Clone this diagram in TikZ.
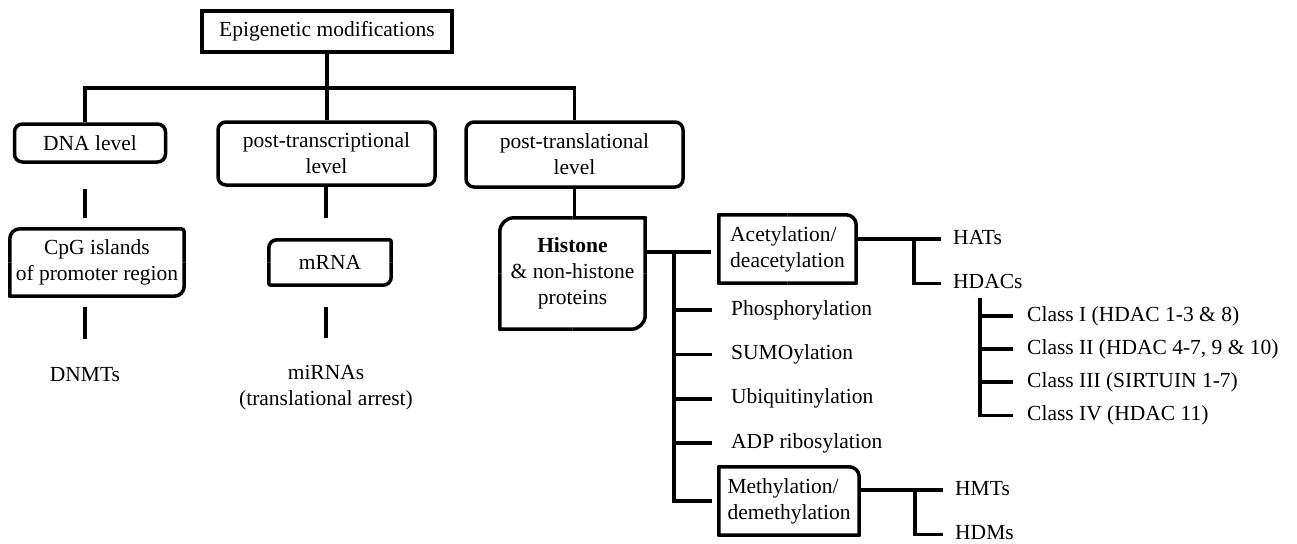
\documentclass[tikz,border=0pt]{standalone}
\usepackage{fontspec}
\setmainfont{Liberation Serif}
\usetikzlibrary{positioning}

% box outline with its own radius per corner: TL, TR, BR, BL
\newcommand{\cornerbox}[5]{%
	\draw[boxline, rounded corners=#2] (#1.west) |- (#1.north);
	\draw[boxline, rounded corners=#3] (#1.north) -| (#1.east);
	\draw[boxline, rounded corners=#4] (#1.east) |- (#1.south);
	\draw[boxline, rounded corners=#5] (#1.south) -| (#1.west);
}

\begin{document}
\begin{tikzpicture}[x=1pt, y=-1pt,
		font=\fontsize{21.5}{26}\selectfont,
		box/.style={rectangle, draw, line width=3.5pt, inner sep=0pt, align=center},
		rbox/.style={box, rounded corners=8pt},
		bare/.style={rectangle, inner sep=0pt, align=center},
		boxline/.style={line width=3.5pt},
		conn/.style={line width=3.5pt},
		leaf/.style={rectangle, inner sep=0pt, text height=15pt, text depth=5pt, anchor=west}
	]
	\useasboundingbox (0,0) rectangle (1297,543);

	\node[box, minimum width=250pt, minimum height=41pt] (epi) at (327,31.5) {Epigenetic modifications};
	\node[rbox, minimum width=151pt, minimum height=38pt] (dna) at (90,143) {DNA level};
	\node[rbox, minimum width=217pt, minimum height=63pt] (ptc) at (326.5,153.5) {post-transcriptional\\level};
	\node[rbox, minimum width=217pt, minimum height=65pt] (ptl) at (574.5,154.5) {post-translational\\level};

	\node[bare, minimum width=174pt, minimum height=67pt] (cpg) at (97,262.5) {CpG islands\\of promoter region};
	\node[bare, minimum width=122pt, minimum height=45pt] (mrna) at (330,262.5) {mRNA};
	\node[bare, minimum width=145pt, minimum height=111pt] (hist) at (572.5,273.5) {\textbf{Histone}\\\& non-histone\\proteins};

	\node[bare] (dnmt) at (85,375) {DNMTs};
	\node[bare] (mirna) at (326,388) {miRNAs\\(translational arrest)};

	\node[bare, align=left, minimum width=137pt, minimum height=68pt] (acet) at (787.5,249) {Acetylation/\\deacetylation};
	\node[bare, align=left, minimum width=140pt, minimum height=68pt] (meth) at (789,501) {Methylation/\\demethylation};

	\node[leaf] (phos) at (731,310) {Phosphorylation};
	\node[leaf, below=24pt of phos.south west, anchor=north west] (sumo) {SUMOylation};
	\node[leaf, below=24pt of sumo.south west, anchor=north west] (ubiq) {Ubiquitinylation};
	\node[leaf, below=24pt of ubiq.south west, anchor=north west] (adp) {ADP ribosylation};

	\node[leaf] (hats) at (953,239) {HATs};
	\node[leaf, below=24pt of hats.south west, anchor=north west] (hdacs) {HDACs};
	\node[leaf] (hmts) at (955,490) {HMTs};
	\node[leaf, below=24pt of hmts.south west, anchor=north west] (hdms) {HDMs};

	\node[leaf] (c1) at (1027,316) {Class I (HDAC 1-3 \& 8)};
	\node[leaf, below=12.7pt of c1.south west, anchor=north west] (c2) {Class II (HDAC 4-7, 9 \& 10)};
	\node[leaf, below=12.7pt of c2.south west, anchor=north west] (c3) {Class III (SIRTUIN 1-7)};
	\node[leaf, below=12.7pt of c3.south west, anchor=north west] (c4) {Class IV (HDAC 11)};

	\cornerbox{cpg}{10pt}{3pt}{10pt}{0.1pt}
	\cornerbox{mrna}{8pt}{2pt}{8pt}{2pt}
	\cornerbox{hist}{14pt}{0.1pt}{14pt}{0.1pt}
	\cornerbox{acet}{0.1pt}{10pt}{0.1pt}{0.1pt}
	\cornerbox{meth}{0.1pt}{10pt}{0.1pt}{0.1pt}

	% top tree
	\coordinate (bus) at (327,88);
	\draw[conn] (epi.south) -- (bus);
	\draw[conn] (dna.north -| dnmt) |- (bus) -| (ptl.north);
	\draw[conn] (bus) -- (bus |- ptc.north);

	\draw[conn, shorten <=25pt, shorten >=11pt] (dna.south -| dnmt) -- (cpg.north -| dnmt);
	\draw[conn, shorten >=22pt] (ptc.south -| mirna) -- (mrna.north -| mirna);
	\draw[conn] (ptl.south) -- (ptl.south |- hist.north);
	\draw[conn, shorten <=11pt, shorten >=29pt] (cpg.south -| dnmt) -- (dnmt.north);
	\draw[conn, shorten <=22pt, shorten >=27pt] (mrna.south -| mirna) -- (mirna.north);

	% histone branches
	\coordinate (tk) at (674,252);
	\draw[conn, shorten >=8pt] (hist.east |- tk) -- (acet.west |- tk);
	\draw[conn, shorten >=7pt] (tk) |- (meth.west);
	\foreach \n in {phos, sumo, ubiq, adp}
		\draw[conn, shorten >=19pt] (tk |- \n.west) -- (\n.west);

	\draw[conn, shorten >=12pt] (acet.east |- hats.west) -- (hats.west);
	\draw[conn, shorten >=12pt] ([xshift=-39pt]hats.west) |- (hdacs.west);
	\draw[conn, shorten >=12pt] (meth.east |- hmts.west) -- (hmts.west);
	\draw[conn, shorten >=12pt] ([xshift=-40pt]hmts.west) |- (hdms.west);

	\coordinate (cls) at (980,298);
	\draw[conn, shorten >=14pt] (cls) |- (c4.west);
	\foreach \c in {c1, c2, c3}
		\draw[conn, shorten >=14pt] (cls |- \c.west) -- (\c.west);

\end{tikzpicture}
\end{document}
